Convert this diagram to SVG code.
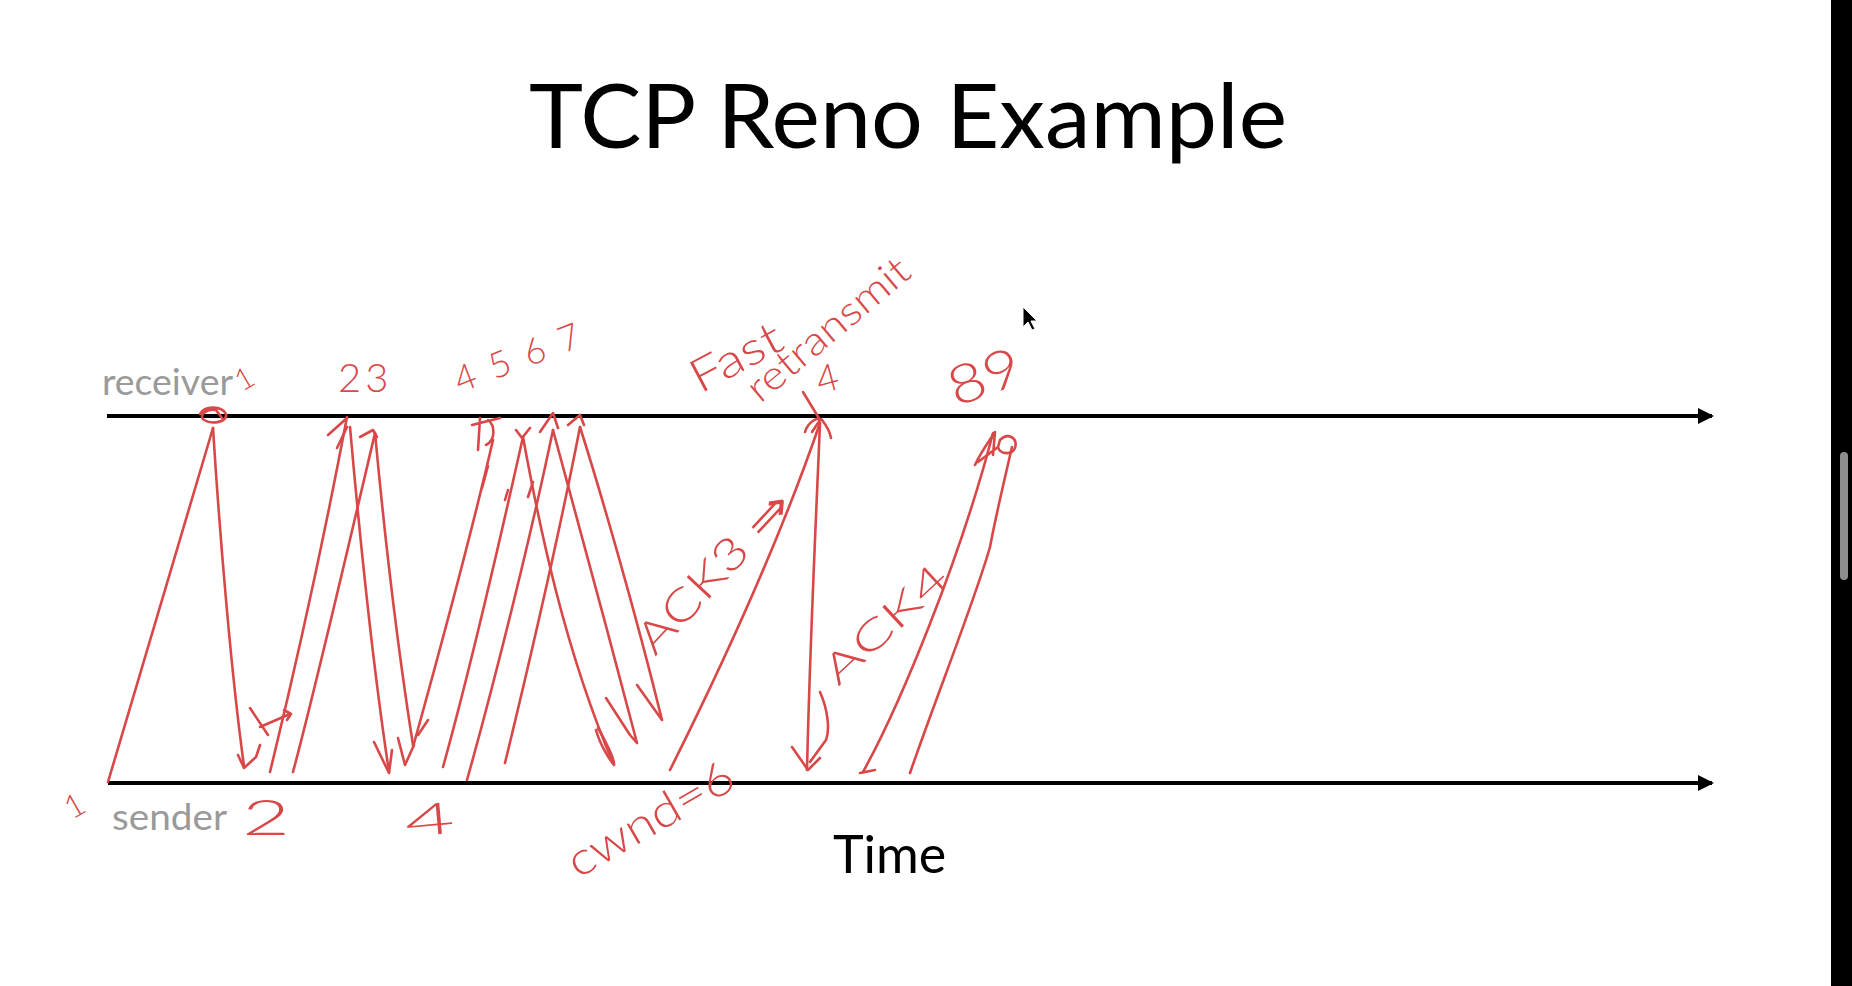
<svg xmlns="http://www.w3.org/2000/svg" width="1852" height="986" viewBox="0 0 1852 986">
<defs>
<style>
.ink{fill:none;stroke:#d84848;stroke-width:2.6;stroke-linecap:round;stroke-linejoin:round}
.hw{fill:#d84848;font-family:"Lato","Liberation Sans",sans-serif;font-weight:300}
.axis{stroke:#000;stroke-width:4;fill:none}
.lbl{fill:#9a9a9a;font-family:"Lato","Open Sans",sans-serif;font-size:36px}
</style>
<marker id="ah" markerWidth="16" markerHeight="16" refX="14" refY="8" orient="auto" markerUnits="userSpaceOnUse">
<path d="M0,0 L16,8 L0,16 Z" fill="#000"/>
</marker>
</defs>
<rect width="1852" height="986" fill="#fff"/>
<g id="title"><text x="529" y="148" font-family="Lato, 'Open Sans', sans-serif" font-size="90" textLength="758" lengthAdjust="spacingAndGlyphs" fill="#000">TCP Reno Example</text></g>
<g id="receiver"><line class="axis" x1="107" y1="416" x2="1712" y2="416" marker-end="url(#ah)"/><text class="lbl" x="102" y="395" textLength="131" lengthAdjust="spacingAndGlyphs">receiver</text></g>
<g id="sender"><line class="axis" x1="108" y1="783" x2="1712" y2="783" marker-end="url(#ah)"/><text class="lbl" x="112" y="830" textLength="115" lengthAdjust="spacingAndGlyphs">sender</text></g>
<g id="time"><text x="833" y="873" font-family="Lato, 'Open Sans', sans-serif" font-size="52" fill="#000">Time</text></g>
<g id="connectors">
<path class="ink" d="M108,782 C135,690 180,540 213,428"/>
<path class="ink" d="M200,414 C205,405 222,406 226,414 C228,422 212,425 204,420 C198,416 206,408 216,410 L222,418"/>
<path class="ink" d="M213,428 C220,540 232,680 244,766"/>
<path class="ink" d="M238,755 L244,768 L256,757 L260,745"/>
<path class="ink" d="M250,708 L268,735 M260,727 L290,714 M284,710 L291,714 L287,720"/>
<path class="ink" d="M270,772 C290,690 320,560 347,417"/>
<path class="ink" d="M293,772 C315,690 350,540 375,433"/>
<path class="ink" d="M328,435 L347,418 M337,448 L347,427 M360,437 L373,430 L377,437"/>
<path class="ink" d="M350,427 C360,540 372,660 389,772"/>
<path class="ink" d="M375,433 C385,540 398,650 413,745"/>
<path class="ink" d="M374,742 L389,773 L392,750 M398,738 L405,765 L414,745 M418,735 L428,720"/>
<path class="ink" d="M413,747 C440,650 470,540 493,440"/>
<path class="ink" d="M472,425 L500,418 M480,418 L478,450 M488,420 C495,425 496,440 486,445 M482,488 L488,466"/>
<path class="ink" d="M443,767 C470,670 500,540 523,437"/>
<path class="ink" d="M467,780 C495,680 530,540 553,430"/>
<path class="ink" d="M505,763 C530,660 560,530 580,427"/>
<path class="ink" d="M516,430 L522,438 L530,428 M540,432 L553,413 L558,428 M568,425 L580,415 L584,425 M505,500 L508,490 M528,497 L533,482"/>
<path class="ink" d="M523,437 C540,530 565,650 613,763"/>
<path class="ink" d="M598,728 C605,740 615,760 614,765 C610,760 600,745 596,730"/>
<path class="ink" d="M553,430 C575,510 610,640 637,743 M606,698 L630,735 L637,743"/>
<path class="ink" d="M580,427 C600,490 635,610 662,720 M637,685 L662,720"/>
<path class="ink" d="M670,770 C720,670 780,540 820,423"/>
<path class="ink" d="M805,432 C808,422 818,416 822,420 C826,425 830,432 831,438 M812,432 L820,420 M803,392 L820,420"/>
<path class="ink" d="M820,423 C816,520 810,640 807,770"/>
<path class="ink" d="M792,747 L808,770 L820,758 M820,692 C828,710 830,730 826,740 L810,762"/>
<path class="ink" d="M863,772 C900,705 960,560 993,433"/>
<path class="ink" d="M910,773 C935,700 975,600 990,547 C996,515 1002,490 1012,447"/>
<path class="ink" d="M860,773 L875,770"/>
<path class="ink" d="M975,465 C982,450 990,440 995,432 L993,455 M1000,440 C1008,432 1018,438 1015,448 C1012,455 1000,455 998,447 Z M978,462 L998,447"/>
</g>
<g id="annotations">
<text class="hw" x="242" y="392" font-size="30" transform="rotate(-30 242 392)">1</text>
<text class="hw" x="338" y="392" font-size="40" letter-spacing="4">23</text>
<text class="hw" x="460" y="393" font-size="36" textLength="132" transform="rotate(-21 460 393)">4567</text>
<text class="hw" x="700" y="394" font-size="46" textLength="98" lengthAdjust="spacingAndGlyphs" transform="rotate(-28 700 394)">Fast</text>
<text class="hw" x="760" y="404" font-size="40" textLength="200" lengthAdjust="spacingAndGlyphs" transform="rotate(-40 760 404)">retransmit</text>
<text class="hw" x="820" y="394" font-size="38" transform="rotate(-15 820 394)">4</text>
<text class="hw" x="956" y="407" font-size="54" textLength="74" lengthAdjust="spacingAndGlyphs" transform="rotate(-20 956 407)">89</text>
<text class="hw" x="655" y="657" font-size="44" textLength="205" lengthAdjust="spacingAndGlyphs" transform="rotate(-47 655 657)">ACK3 ⇒</text>
<text class="hw" x="838" y="687" font-size="40" textLength="155" lengthAdjust="spacingAndGlyphs" transform="rotate(-43 838 687)">ACK4</text>
<text class="hw" x="578" y="879" font-size="46" textLength="185" lengthAdjust="spacingAndGlyphs" transform="rotate(-30 578 879)">cwnd=6</text>
<text class="hw" x="242" y="835" font-size="50" textLength="48" lengthAdjust="spacingAndGlyphs">2</text>
<text class="hw" x="406" y="837" font-size="44" textLength="50" lengthAdjust="spacingAndGlyphs" transform="rotate(-5 406 837)">4</text>
<text class="hw" x="72" y="820" font-size="32" transform="rotate(-30 72 820)">1</text>
</g>
<g id="cursor"><path d="M1023,307 L1023,327 L1028,322 L1032,330 L1035,329 L1031,321 L1037,321 Z" fill="#000" stroke="#fff" stroke-width="1"/></g>
<g id="scrollbar"><rect x="1831" y="0" width="21" height="986" fill="#000"/><rect x="1840" y="452" width="8" height="128" rx="4" fill="#8e8e8e"/></g>
</svg>
